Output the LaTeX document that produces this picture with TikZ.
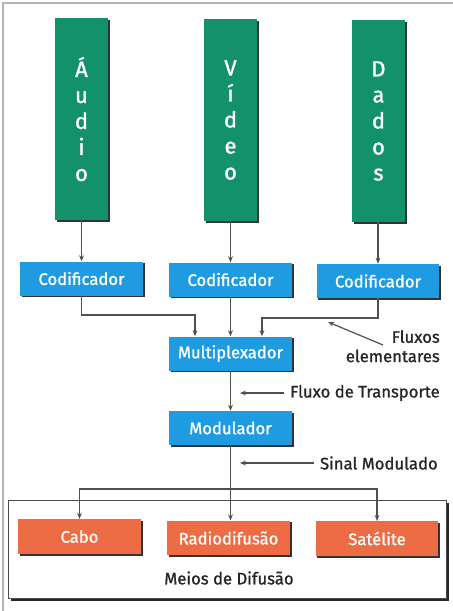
\documentclass[tikz,border=0pt]{standalone}
\usepackage{fontspec}
\setmainfont{Fira Sans}
\newfontfamily\grosso{Fira Sans}[FakeBold=1.2]
\usetikzlibrary{arrows.meta,shadows}
\definecolor{fonte}{RGB}{18,145,106}
\definecolor{bloco}{RGB}{30,155,225}
\definecolor{meio}{RGB}{238,108,68}
\definecolor{linha}{RGB}{80,80,80}
\tikzset{
	sombra/.style={drop shadow={shadow xshift=1.3pt, shadow yshift=-1.3pt, fill=black!80, opacity=1}},
	fontebox/.style={fill=fonte, sombra, text=white, minimum width=39.75pt, minimum height=151.5pt, align=center, font=\grosso\fontsize{16.5}{19.5}\selectfont},
	blocobox/.style={fill=bloco, sombra, text=white, minimum width=92pt, minimum height=25.5pt, font=\grosso\fontsize{12.5}{14}\selectfont},
	meiobox/.style={fill=meio, sombra, text=white, minimum width=92pt, minimum height=26pt, font=\grosso\fontsize{12.5}{14}\selectfont},
	rotulo/.style={text=black!85, font=\grosso\fontsize{12.5}{14.5}\selectfont, inner sep=0pt},
	seta/.style={draw=linha, line width=0.9pt, -{Stealth[length=4.5pt,width=3.6pt]}}
}
\begin{document}
\begin{tikzpicture}[x=0.75pt, y=-0.75pt]
			%%%%% START %%%%%
			\useasboundingbox (0,0) rectangle (453,611);
			\draw[black!30, line width=0.8pt] (3,611) -- (3,3) -- (453,3);
			
			% meios de difusao
			\draw[draw=black!70, fill=white, line width=0.5pt, drop shadow={shadow xshift=2.2pt, shadow yshift=-2.4pt, fill=black!85, opacity=1}] (8,500) rectangle (446,598);
			\node[rotulo] (meios) at (229,578) {Meios de Difusão};
			
			% fontes
			\node[fontebox] (aud) at (81.5,119) {Á\\u\\d\\i\\o};
			\node[fontebox] (vid) at (230.5,120) {V\\í\\d\\e\\o};
			\node[fontebox] (dad) at (378.5,121) {D\\a\\d\\o\\s};
			
			% codificadores
			\node[blocobox] (cod1) at (81.5,278.5) {Codificador};
			\node[blocobox] (cod2) at (230.5,279.5) {Codificador};
			\node[blocobox] (cod3) at (378,281) {Codificador};
			
			\node[blocobox] (mux) at (230.5,353.5) {Multiplexador};
			\node[blocobox] (mod) at (230.5,428) {Modulador};
			
			% destinos
			\node[meiobox] (cab) at (79.5,536.5) {Cabo};
			\node[meiobox] (rad) at (228.5,538) {Radiodifusão};
			\node[meiobox] (sat) at (377,538.5) {Satélite};
			
			% ligacoes
			\draw[seta] (aud.south -| cod1) -- (cod1.north);
			\draw[seta] (vid.south -| cod2) -- (cod2.north);
			\draw[seta] (dad.south -| cod3) -- (cod3.north);
			
			\coordinate (j1) at (195,315);
			\coordinate (j3) at (262,318);
			\draw[seta] (cod1.south) |- (j1) -- (j1 |- mux.north);
			\draw[seta] (cod2.south) -- (cod2.south |- mux.north);
			\draw[seta] (cod3.south) |- (j3) -- (j3 |- mux.north);
			
			\draw[seta] (mux.south) -- (mod.north);
			\draw[seta] (mod.south) -- (mod.south |- rad.north);
			
			\coordinate (div) at (229,489);
			\draw[seta] (div) -| (cab.north);
			\draw[seta] (div) -| (sat.north);
			
			% rotulos
			\node[rotulo, align=right, anchor=north east] (flx) at (440,330) {Fluxos\\elementares};
			\coordinate (flxa) at (383,345);
			\coordinate (flxb) at (328,322);
			\draw[seta] (flxa) -- (flxb);
			
			\node[rotulo, anchor=east] (ftr) at (440,393) {Fluxo de Transporte};
			\coordinate (ftra) at (240,393);
			\draw[seta] ([xshift=-4pt]ftr.west) -- (ftra);
			
			\node[rotulo, anchor=east] (sin) at (438,463) {Sinal Modulado};
			\coordinate (sina) at (240,463);
			\draw[seta] ([xshift=-4pt]sin.west) -- (sina);
			%%%%% END %%%%%
\end{tikzpicture}
\end{document}
